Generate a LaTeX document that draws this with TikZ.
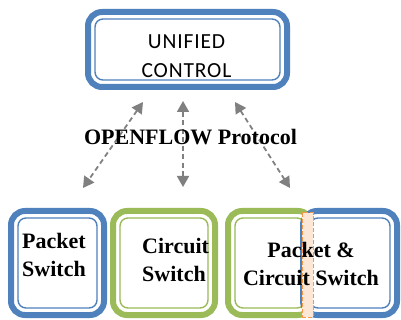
\documentclass[tikz,border=0pt]{standalone}
\usepackage{fontspec}
\setmainfont{Liberation Serif}
\newfontfamily\ctlfont[LetterSpace=4]{Carlito}
\usepackage{tikz}
\usetikzlibrary{arrows.meta}

\definecolor{boxblue}{RGB}{79,129,189}
\definecolor{boxgreen}{RGB}{155,187,89}
\definecolor{sliceorange}{RGB}{247,150,70}
\definecolor{slicefill}{RGB}{252,230,214}
\definecolor{flowgray}{RGB}{128,128,128}

\begin{document}
\begin{tikzpicture}[x=1pt,y=-1pt,
  swbox/.style={draw=#1, line width=6pt, rounded corners=14pt, fill=white, outer sep=0pt, inner sep=0pt},
  swline/.style={draw=#1, line width=1.4pt, rounded corners=8pt},
  flow/.style={draw=flowgray, line width=1.8pt, dash pattern=on 5pt off 3.5pt,
    {Triangle[width=12pt,length=11pt]}-{Triangle[width=12pt,length=11pt]}},
  lbl/.style={font=\bfseries\fontsize{22}{28}\selectfont, inner sep=0pt}]
\useasboundingbox (0,0) rectangle (401,320);

% controller
\node[swbox=boxblue, minimum width=199pt, minimum height=75pt] (ctl) at (187.5,49.5) {};
\draw[swline=boxblue] ([shift={(7,7)}]ctl.north west) rectangle ([shift={(-7,-7)}]ctl.south east);
\node[font=\ctlfont\fontsize{21.5}{29}\selectfont, align=center, inner sep=0pt] (ctltext) at (186.5,56) {UNIFIED\\CONTROL};

% switches
\node[swbox=boxblue, minimum width=93pt, minimum height=104pt] (pkt) at (57.5,263) {};
\draw[swline=boxblue] ([shift={(7,7)}]pkt.north west) rectangle ([shift={(-7,-7)}]pkt.south east);
\node[swbox=boxgreen, minimum width=102pt, minimum height=104pt] (cir) at (164,263) {};
\draw[swline=boxgreen] ([shift={(7,7)}]cir.north west) rectangle ([shift={(-7,-7)}]cir.south east);
\node[swbox=boxgreen, minimum width=84pt, minimum height=104pt] (hybg) at (270,263) {};
\draw[swline=boxgreen] ([shift={(7,7)}]hybg.north west) rectangle ([shift={(-7,-7)}]hybg.south east);
\node[swbox=boxblue, minimum width=94pt, minimum height=104pt] (hybb) at (350,263) {};
\draw[swline=boxblue] ([shift={(7,7)}]hybb.north west) rectangle ([shift={(-7,-7)}]hybb.south east);
\node[draw=sliceorange, fill=slicefill, line width=1pt, dash pattern=on 4pt off 2pt,
  minimum width=11pt, minimum height=104pt, inner sep=0pt, outer sep=0pt] (slice) at (307.5,265) {};

\node[lbl, align=left, anchor=north west] (pkttext) at (22,233) {Packet\\Switch};
\node[lbl, align=left, anchor=north west] (cirtext) at (142,238) {Circuit\\Switch};
\node[lbl, align=center, anchor=north] (hybtext) at (311,242) {Packet \&\\Circuit Switch};

% openflow links
\coordinate (up1) at (143,102);
\coordinate (dn1) at (83,188);
\coordinate (up2) at (183,101);
\coordinate (dn2) at (183,187);
\coordinate (up3) at (235,102);
\coordinate (dn3) at (290,188);
\draw[flow] (up1) -- (dn1);
\draw[flow] (up2) -- (dn2);
\draw[flow] (up3) -- (dn3);

\node[lbl, anchor=base] (proto) at (190.5,145) {OPENFLOW Protocol};
\end{tikzpicture}
\end{document}
